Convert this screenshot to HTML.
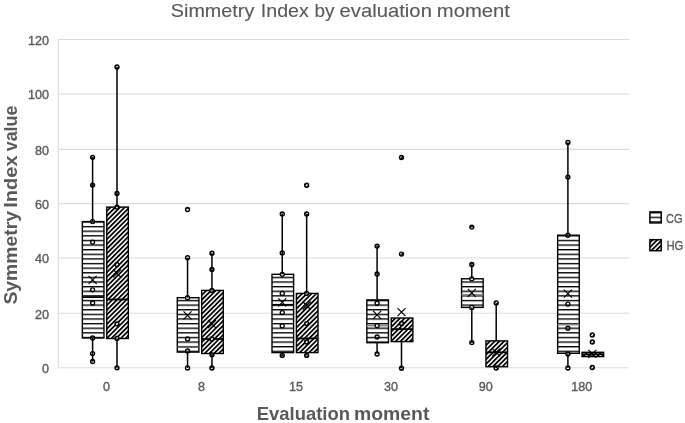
<!DOCTYPE html><html><head><meta charset="utf-8"><style>html,body{margin:0;padding:0;background:#fff;}svg{display:block;will-change:transform;}text{font-family:"Liberation Sans",sans-serif;}</style></head><body>
<svg width="685" height="423" viewBox="0 0 685 423">
<defs>
<pattern id="ph" patternUnits="userSpaceOnUse" x="0" y="-0.455" width="10" height="4.62"><rect width="10" height="4.62" fill="#fff"/><rect y="0" width="10" height="1.35" fill="#000"/></pattern>
<pattern id="pd" patternUnits="userSpaceOnUse" x="0" y="0" width="3.33" height="3.33" patternTransform="rotate(45)"><rect width="3.33" height="3.33" fill="#fff"/><rect x="0.847" width="1.75" height="3.33" fill="#000"/></pattern>
</defs>
<rect width="685" height="423" fill="#fff"/>
<line x1="58" x2="629" y1="367.80" y2="367.80" stroke="#dbdbdb" stroke-width="1.1"/>
<line x1="58" x2="629" y1="313.30" y2="313.30" stroke="#dbdbdb" stroke-width="1.1"/>
<line x1="58" x2="629" y1="257.95" y2="257.95" stroke="#dbdbdb" stroke-width="1.1"/>
<line x1="58" x2="629" y1="203.60" y2="203.60" stroke="#dbdbdb" stroke-width="1.1"/>
<line x1="58" x2="629" y1="149.35" y2="149.35" stroke="#dbdbdb" stroke-width="1.1"/>
<line x1="58" x2="629" y1="94.05" y2="94.05" stroke="#dbdbdb" stroke-width="1.1"/>
<line x1="58" x2="629" y1="39.56" y2="39.56" stroke="#dbdbdb" stroke-width="1.1"/>
<line x1="58.25" x2="58.25" y1="39.06" y2="368.30" stroke="#dbdbdb" stroke-width="1.1"/>
<text x="49" y="373.00" font-size="12.6" fill="#595959" stroke="#595959" stroke-width="0.35" text-anchor="end">0</text>
<text x="49" y="318.50" font-size="12.6" fill="#595959" stroke="#595959" stroke-width="0.35" text-anchor="end">20</text>
<text x="49" y="263.15" font-size="12.6" fill="#595959" stroke="#595959" stroke-width="0.35" text-anchor="end">40</text>
<text x="49" y="208.80" font-size="12.6" fill="#595959" stroke="#595959" stroke-width="0.35" text-anchor="end">60</text>
<text x="49" y="154.55" font-size="12.6" fill="#595959" stroke="#595959" stroke-width="0.35" text-anchor="end">80</text>
<text x="49" y="99.25" font-size="12.6" fill="#595959" stroke="#595959" stroke-width="0.35" text-anchor="end">100</text>
<text x="49" y="44.76" font-size="12.6" fill="#595959" stroke="#595959" stroke-width="0.35" text-anchor="end">120</text>
<text x="106.45" y="391.2" font-size="12.6" fill="#595959" stroke="#595959" stroke-width="0.35" text-anchor="middle">0</text>
<text x="201.40" y="391.2" font-size="12.6" fill="#595959" stroke="#595959" stroke-width="0.35" text-anchor="middle">8</text>
<text x="296.10" y="391.2" font-size="12.6" fill="#595959" stroke="#595959" stroke-width="0.35" text-anchor="middle">15</text>
<text x="390.95" y="391.2" font-size="12.6" fill="#595959" stroke="#595959" stroke-width="0.35" text-anchor="middle">30</text>
<text x="485.65" y="391.2" font-size="12.6" fill="#595959" stroke="#595959" stroke-width="0.35" text-anchor="middle">90</text>
<text x="581.75" y="391.2" font-size="12.6" fill="#595959" stroke="#595959" stroke-width="0.35" text-anchor="middle">180</text>
<text x="170.80" y="16.6" font-size="19" fill="#595959" stroke="#595959" stroke-width="0.12" textLength="83.50" lengthAdjust="spacingAndGlyphs">Simmetry</text>
<text x="260.80" y="16.6" font-size="19" fill="#595959" stroke="#595959" stroke-width="0.12" textLength="48.00" lengthAdjust="spacingAndGlyphs">Index</text>
<text x="314.40" y="16.6" font-size="19" fill="#595959" stroke="#595959" stroke-width="0.12" textLength="20.00" lengthAdjust="spacingAndGlyphs">by</text>
<text x="339.60" y="16.6" font-size="19" fill="#595959" stroke="#595959" stroke-width="0.12" textLength="92.30" lengthAdjust="spacingAndGlyphs">evaluation</text>
<text x="436.80" y="16.6" font-size="19" fill="#595959" stroke="#595959" stroke-width="0.12" textLength="73.20" lengthAdjust="spacingAndGlyphs">moment</text>
<text x="256.80" y="419.9" font-size="19" font-weight="bold" fill="#595959" textLength="93.20" lengthAdjust="spacingAndGlyphs">Evaluation</text>
<text x="353.90" y="419.9" font-size="19" font-weight="bold" fill="#595959" textLength="75.50" lengthAdjust="spacingAndGlyphs">moment</text>
<text transform="translate(17.0,0) rotate(-90)" x="-304.60" y="0" font-size="19" font-weight="bold" fill="#595959" textLength="93.60" lengthAdjust="spacingAndGlyphs">Symmetry</text>
<text transform="translate(17.0,0) rotate(-90)" x="-207.80" y="0" font-size="19" font-weight="bold" fill="#595959" textLength="52.50" lengthAdjust="spacingAndGlyphs">Index</text>
<text transform="translate(17.0,0) rotate(-90)" x="-151.20" y="0" font-size="19" font-weight="bold" fill="#595959" textLength="45.50" lengthAdjust="spacingAndGlyphs">value</text>
<rect x="82.35" y="221.6" width="21.6" height="116.40" fill="url(#ph)" stroke="#000" stroke-width="1.4"/>
<line x1="82.35" x2="103.95" y1="297.1" y2="297.1" stroke="#000" stroke-width="1.8"/>
<circle cx="92.60" cy="157.30" r="2.0" fill="url(#ph)" stroke="#000" stroke-width="1.35"/>
<circle cx="92.60" cy="185.10" r="2.0" fill="url(#ph)" stroke="#000" stroke-width="1.35"/>
<circle cx="92.60" cy="221.60" r="2.0" fill="url(#ph)" stroke="#000" stroke-width="1.35"/>
<circle cx="92.60" cy="242.10" r="2.0" fill="url(#ph)" stroke="#000" stroke-width="1.35"/>
<circle cx="92.60" cy="289.80" r="2.0" fill="url(#ph)" stroke="#000" stroke-width="1.35"/>
<circle cx="92.60" cy="303.00" r="2.0" fill="url(#ph)" stroke="#000" stroke-width="1.35"/>
<circle cx="92.60" cy="338.00" r="2.0" fill="url(#ph)" stroke="#000" stroke-width="1.35"/>
<circle cx="92.60" cy="353.60" r="2.0" fill="url(#ph)" stroke="#000" stroke-width="1.35"/>
<circle cx="92.60" cy="361.50" r="2.0" fill="url(#ph)" stroke="#000" stroke-width="1.35"/>
<line x1="92.60000000000001" x2="92.60000000000001" y1="157.3" y2="221.6" stroke="#000" stroke-width="1.5"/>
<line x1="92.60000000000001" x2="92.60000000000001" y1="338" y2="361.5" stroke="#000" stroke-width="1.5"/>
<path d="M88.60 275.80L96.60 283.80M88.60 283.80L96.60 275.80" stroke="#000" stroke-width="1.2" fill="none"/>
<rect x="106.75" y="207.1" width="21.6" height="131.40" fill="url(#pd)" stroke="#000" stroke-width="1.4"/>
<line x1="106.75" x2="128.35" y1="299.5" y2="299.5" stroke="#000" stroke-width="1.8"/>
<pattern id="pdm1" patternUnits="userSpaceOnUse" width="3.33" height="3.33" patternTransform="rotate(45)"><rect width="3.33" height="3.33" fill="#fff"/><rect x="1.028" width="1.75" height="3.33" fill="#000"/><rect x="-2.302" width="1.75" height="3.33" fill="#000"/></pattern>
<circle cx="117.00" cy="67.00" r="2.0" fill="url(#pdm1)" stroke="#000" stroke-width="1.35"/>
<pattern id="pdm2" patternUnits="userSpaceOnUse" width="3.33" height="3.33" patternTransform="rotate(45)"><rect width="3.33" height="3.33" fill="#fff"/><rect x="0.567" width="1.75" height="3.33" fill="#000"/><rect x="-2.763" width="1.75" height="3.33" fill="#000"/></pattern>
<circle cx="117.00" cy="193.50" r="2.0" fill="url(#pdm2)" stroke="#000" stroke-width="1.35"/>
<pattern id="pdm3" patternUnits="userSpaceOnUse" width="3.33" height="3.33" patternTransform="rotate(45)"><rect width="3.33" height="3.33" fill="#fff"/><rect x="0.193" width="1.75" height="3.33" fill="#000"/><rect x="-3.137" width="1.75" height="3.33" fill="#000"/></pattern>
<circle cx="117.00" cy="207.10" r="2.0" fill="url(#pdm3)" stroke="#000" stroke-width="1.35"/>
<pattern id="pdm4" patternUnits="userSpaceOnUse" width="3.33" height="3.33" patternTransform="rotate(45)"><rect width="3.33" height="3.33" fill="#fff"/><rect x="0.892" width="1.75" height="3.33" fill="#000"/><rect x="-2.438" width="1.75" height="3.33" fill="#000"/></pattern>
<circle cx="117.00" cy="264.60" r="2.0" fill="url(#pdm4)" stroke="#000" stroke-width="1.35"/>
<pattern id="pdm5" patternUnits="userSpaceOnUse" width="3.33" height="3.33" patternTransform="rotate(45)"><rect width="3.33" height="3.33" fill="#fff"/><rect x="2.863" width="1.75" height="3.33" fill="#000"/><rect x="-0.467" width="1.75" height="3.33" fill="#000"/></pattern>
<circle cx="117.00" cy="323.90" r="2.0" fill="url(#pdm5)" stroke="#000" stroke-width="1.35"/>
<pattern id="pdm6" patternUnits="userSpaceOnUse" width="3.33" height="3.33" patternTransform="rotate(45)"><rect width="3.33" height="3.33" fill="#fff"/><rect x="3.197" width="1.75" height="3.33" fill="#000"/><rect x="-0.133" width="1.75" height="3.33" fill="#000"/></pattern>
<circle cx="117.00" cy="338.50" r="2.0" fill="url(#pdm6)" stroke="#000" stroke-width="1.35"/>
<pattern id="pdm7" patternUnits="userSpaceOnUse" width="3.33" height="3.33" patternTransform="rotate(45)"><rect width="3.33" height="3.33" fill="#fff"/><rect x="0.605" width="1.75" height="3.33" fill="#000"/><rect x="-2.725" width="1.75" height="3.33" fill="#000"/></pattern>
<circle cx="117.00" cy="367.80" r="2.0" fill="url(#pdm7)" stroke="#000" stroke-width="1.35"/>
<line x1="117.00000000000001" x2="117.00000000000001" y1="67" y2="207.1" stroke="#000" stroke-width="1.5"/>
<line x1="117.00000000000001" x2="117.00000000000001" y1="338.5" y2="367.8" stroke="#000" stroke-width="1.5"/>
<path d="M113.00 269.40L121.00 277.40M113.00 277.40L121.00 269.40" stroke="#000" stroke-width="1.2" fill="none"/>
<rect x="177.30" y="297.7" width="21.6" height="54.40" fill="url(#ph)" stroke="#000" stroke-width="1.4"/>
<line x1="177.30" x2="198.90" y1="346.8" y2="346.8" stroke="#555" stroke-width="1.8"/>
<circle cx="187.55" cy="257.70" r="2.0" fill="url(#ph)" stroke="#000" stroke-width="1.35"/>
<circle cx="187.55" cy="297.70" r="2.0" fill="url(#ph)" stroke="#000" stroke-width="1.35"/>
<circle cx="187.55" cy="338.90" r="2.0" fill="url(#ph)" stroke="#000" stroke-width="1.35"/>
<circle cx="187.55" cy="351.00" r="2.0" fill="url(#ph)" stroke="#000" stroke-width="1.35"/>
<circle cx="187.55" cy="368.00" r="2.0" fill="url(#ph)" stroke="#000" stroke-width="1.35"/>
<circle cx="187.55" cy="209.50" r="2.0" fill="url(#ph)" stroke="#000" stroke-width="1.35"/>
<line x1="187.54999999999998" x2="187.54999999999998" y1="257.7" y2="297.7" stroke="#000" stroke-width="1.5"/>
<line x1="187.54999999999998" x2="187.54999999999998" y1="352.1" y2="368" stroke="#000" stroke-width="1.5"/>
<path d="M183.55 311.40L191.55 319.40M183.55 319.40L191.55 311.40" stroke="#000" stroke-width="1.2" fill="none"/>
<rect x="201.70" y="290.4" width="21.6" height="63.10" fill="url(#pd)" stroke="#000" stroke-width="1.4"/>
<line x1="201.70" x2="223.30" y1="339" y2="339" stroke="#000" stroke-width="1.8"/>
<pattern id="pdm8" patternUnits="userSpaceOnUse" width="3.33" height="3.33" patternTransform="rotate(45)"><rect width="3.33" height="3.33" fill="#fff"/><rect x="0.031" width="1.75" height="3.33" fill="#000"/><rect x="-3.299" width="1.75" height="3.33" fill="#000"/></pattern>
<circle cx="211.95" cy="253.20" r="2.0" fill="url(#pdm8)" stroke="#000" stroke-width="1.35"/>
<pattern id="pdm9" patternUnits="userSpaceOnUse" width="3.33" height="3.33" patternTransform="rotate(45)"><rect width="3.33" height="3.33" fill="#fff"/><rect x="1.567" width="1.75" height="3.33" fill="#000"/><rect x="-1.763" width="1.75" height="3.33" fill="#000"/></pattern>
<circle cx="211.95" cy="269.50" r="2.0" fill="url(#pdm9)" stroke="#000" stroke-width="1.35"/>
<pattern id="pdm10" patternUnits="userSpaceOnUse" width="3.33" height="3.33" patternTransform="rotate(45)"><rect width="3.33" height="3.33" fill="#fff"/><rect x="3.025" width="1.75" height="3.33" fill="#000"/><rect x="-0.305" width="1.75" height="3.33" fill="#000"/></pattern>
<circle cx="211.95" cy="290.40" r="2.0" fill="url(#pdm10)" stroke="#000" stroke-width="1.35"/>
<pattern id="pdm11" patternUnits="userSpaceOnUse" width="3.33" height="3.33" patternTransform="rotate(45)"><rect width="3.33" height="3.33" fill="#fff"/><rect x="0.760" width="1.75" height="3.33" fill="#000"/><rect x="-2.570" width="1.75" height="3.33" fill="#000"/></pattern>
<circle cx="211.95" cy="339.00" r="2.0" fill="url(#pdm11)" stroke="#000" stroke-width="1.35"/>
<pattern id="pdm12" patternUnits="userSpaceOnUse" width="3.33" height="3.33" patternTransform="rotate(45)"><rect width="3.33" height="3.33" fill="#fff"/><rect x="1.943" width="1.75" height="3.33" fill="#000"/><rect x="-1.387" width="1.75" height="3.33" fill="#000"/></pattern>
<circle cx="211.95" cy="354.80" r="2.0" fill="url(#pdm12)" stroke="#000" stroke-width="1.35"/>
<pattern id="pdm13" patternUnits="userSpaceOnUse" width="3.33" height="3.33" patternTransform="rotate(45)"><rect width="3.33" height="3.33" fill="#fff"/><rect x="1.287" width="1.75" height="3.33" fill="#000"/><rect x="-2.043" width="1.75" height="3.33" fill="#000"/></pattern>
<circle cx="211.95" cy="368.00" r="2.0" fill="url(#pdm13)" stroke="#000" stroke-width="1.35"/>
<line x1="211.95" x2="211.95" y1="253.2" y2="290.4" stroke="#000" stroke-width="1.5"/>
<line x1="211.95" x2="211.95" y1="353.5" y2="368" stroke="#000" stroke-width="1.5"/>
<path d="M207.95 320.00L215.95 328.00M207.95 328.00L215.95 320.00" stroke="#000" stroke-width="1.2" fill="none"/>
<rect x="272.00" y="274.3" width="21.6" height="78.30" fill="url(#ph)" stroke="#000" stroke-width="1.4"/>
<line x1="272.00" x2="293.60" y1="304.8" y2="304.8" stroke="#000" stroke-width="1.8"/>
<circle cx="282.25" cy="214.00" r="2.0" fill="url(#ph)" stroke="#000" stroke-width="1.35"/>
<circle cx="282.25" cy="253.00" r="2.0" fill="url(#ph)" stroke="#000" stroke-width="1.35"/>
<circle cx="282.25" cy="274.30" r="2.0" fill="url(#ph)" stroke="#000" stroke-width="1.35"/>
<circle cx="282.25" cy="293.40" r="2.0" fill="url(#ph)" stroke="#000" stroke-width="1.35"/>
<circle cx="282.25" cy="312.60" r="2.0" fill="url(#ph)" stroke="#000" stroke-width="1.35"/>
<circle cx="282.25" cy="325.80" r="2.0" fill="url(#ph)" stroke="#000" stroke-width="1.35"/>
<circle cx="282.25" cy="355.40" r="2.0" fill="url(#ph)" stroke="#000" stroke-width="1.35"/>
<line x1="282.25" x2="282.25" y1="214" y2="274.3" stroke="#000" stroke-width="1.5"/>
<line x1="282.25" x2="282.25" y1="352.6" y2="355.4" stroke="#000" stroke-width="1.5"/>
<path d="M278.25 298.30L286.25 306.30M278.25 306.30L286.25 298.30" stroke="#000" stroke-width="1.2" fill="none"/>
<rect x="296.40" y="293.4" width="21.6" height="59.20" fill="url(#pd)" stroke="#000" stroke-width="1.4"/>
<line x1="296.40" x2="318.00" y1="338.4" y2="338.4" stroke="#000" stroke-width="1.8"/>
<pattern id="pdm14" patternUnits="userSpaceOnUse" width="3.33" height="3.33" patternTransform="rotate(45)"><rect width="3.33" height="3.33" fill="#fff"/><rect x="2.645" width="1.75" height="3.33" fill="#000"/><rect x="-0.685" width="1.75" height="3.33" fill="#000"/></pattern>
<circle cx="306.65" cy="214.00" r="2.0" fill="url(#pdm14)" stroke="#000" stroke-width="1.35"/>
<pattern id="pdm15" patternUnits="userSpaceOnUse" width="3.33" height="3.33" patternTransform="rotate(45)"><rect width="3.33" height="3.33" fill="#fff"/><rect x="2.179" width="1.75" height="3.33" fill="#000"/><rect x="-1.151" width="1.75" height="3.33" fill="#000"/></pattern>
<circle cx="306.65" cy="293.40" r="2.0" fill="url(#pdm15)" stroke="#000" stroke-width="1.35"/>
<pattern id="pdm16" patternUnits="userSpaceOnUse" width="3.33" height="3.33" patternTransform="rotate(45)"><rect width="3.33" height="3.33" fill="#fff"/><rect x="0.224" width="1.75" height="3.33" fill="#000"/><rect x="-3.106" width="1.75" height="3.33" fill="#000"/></pattern>
<circle cx="306.65" cy="323.60" r="2.0" fill="url(#pdm16)" stroke="#000" stroke-width="1.35"/>
<pattern id="pdm17" patternUnits="userSpaceOnUse" width="3.33" height="3.33" patternTransform="rotate(45)"><rect width="3.33" height="3.33" fill="#fff"/><rect x="3.245" width="1.75" height="3.33" fill="#000"/><rect x="-0.085" width="1.75" height="3.33" fill="#000"/></pattern>
<circle cx="306.65" cy="342.00" r="2.0" fill="url(#pdm17)" stroke="#000" stroke-width="1.35"/>
<pattern id="pdm18" patternUnits="userSpaceOnUse" width="3.33" height="3.33" patternTransform="rotate(45)"><rect width="3.33" height="3.33" fill="#fff"/><rect x="2.730" width="1.75" height="3.33" fill="#000"/><rect x="-0.600" width="1.75" height="3.33" fill="#000"/></pattern>
<circle cx="306.65" cy="355.40" r="2.0" fill="url(#pdm18)" stroke="#000" stroke-width="1.35"/>
<pattern id="pdm19" patternUnits="userSpaceOnUse" width="3.33" height="3.33" patternTransform="rotate(45)"><rect width="3.33" height="3.33" fill="#fff"/><rect x="2.260" width="1.75" height="3.33" fill="#000"/><rect x="-1.070" width="1.75" height="3.33" fill="#000"/></pattern>
<circle cx="306.65" cy="185.20" r="2.0" fill="url(#pdm19)" stroke="#000" stroke-width="1.35"/>
<line x1="306.65" x2="306.65" y1="214" y2="293.4" stroke="#000" stroke-width="1.5"/>
<line x1="306.65" x2="306.65" y1="352.6" y2="355.4" stroke="#000" stroke-width="1.5"/>
<path d="M302.65 301.50L310.65 309.50M302.65 309.50L310.65 301.50" stroke="#000" stroke-width="1.2" fill="none"/>
<rect x="366.85" y="299.9" width="21.6" height="42.80" fill="url(#ph)" stroke="#000" stroke-width="1.4"/>
<line x1="366.85" x2="388.45" y1="325.6" y2="325.6" stroke="#8a8a8a" stroke-width="1.8"/>
<circle cx="377.10" cy="246.10" r="2.0" fill="url(#ph)" stroke="#000" stroke-width="1.35"/>
<circle cx="377.10" cy="274.00" r="2.0" fill="url(#ph)" stroke="#000" stroke-width="1.35"/>
<circle cx="377.10" cy="303.20" r="2.0" fill="url(#ph)" stroke="#000" stroke-width="1.35"/>
<circle cx="377.10" cy="325.60" r="2.0" fill="url(#ph)" stroke="#000" stroke-width="1.35"/>
<circle cx="377.10" cy="337.00" r="2.0" fill="url(#ph)" stroke="#000" stroke-width="1.35"/>
<circle cx="377.10" cy="354.00" r="2.0" fill="url(#ph)" stroke="#000" stroke-width="1.35"/>
<line x1="377.09999999999997" x2="377.09999999999997" y1="246.1" y2="299.9" stroke="#000" stroke-width="1.5"/>
<line x1="377.09999999999997" x2="377.09999999999997" y1="342.7" y2="354" stroke="#000" stroke-width="1.5"/>
<path d="M373.10 310.80L381.10 318.80M373.10 318.80L381.10 310.80" stroke="#000" stroke-width="1.2" fill="none"/>
<rect x="391.25" y="318.0" width="21.6" height="23.60" fill="url(#pd)" stroke="#000" stroke-width="1.4"/>
<line x1="391.25" x2="412.85" y1="329.1" y2="329.1" stroke="#000" stroke-width="1.8"/>
<pattern id="pdm20" patternUnits="userSpaceOnUse" width="3.33" height="3.33" patternTransform="rotate(45)"><rect width="3.33" height="3.33" fill="#fff"/><rect x="0.622" width="1.75" height="3.33" fill="#000"/><rect x="-2.708" width="1.75" height="3.33" fill="#000"/></pattern>
<circle cx="401.50" cy="323.50" r="2.0" fill="url(#pdm20)" stroke="#000" stroke-width="1.35"/>
<pattern id="pdm21" patternUnits="userSpaceOnUse" width="3.33" height="3.33" patternTransform="rotate(45)"><rect width="3.33" height="3.33" fill="#fff"/><rect x="2.260" width="1.75" height="3.33" fill="#000"/><rect x="-1.070" width="1.75" height="3.33" fill="#000"/></pattern>
<circle cx="401.50" cy="368.20" r="2.0" fill="url(#pdm21)" stroke="#000" stroke-width="1.35"/>
<pattern id="pdm22" patternUnits="userSpaceOnUse" width="3.33" height="3.33" patternTransform="rotate(45)"><rect width="3.33" height="3.33" fill="#fff"/><rect x="2.062" width="1.75" height="3.33" fill="#000"/><rect x="-1.268" width="1.75" height="3.33" fill="#000"/></pattern>
<circle cx="401.50" cy="157.50" r="2.0" fill="url(#pdm22)" stroke="#000" stroke-width="1.35"/>
<pattern id="pdm23" patternUnits="userSpaceOnUse" width="3.33" height="3.33" patternTransform="rotate(45)"><rect width="3.33" height="3.33" fill="#fff"/><rect x="0.439" width="1.75" height="3.33" fill="#000"/><rect x="-2.891" width="1.75" height="3.33" fill="#000"/></pattern>
<circle cx="401.50" cy="254.10" r="2.0" fill="url(#pdm23)" stroke="#000" stroke-width="1.35"/>
<line x1="401.49999999999994" x2="401.49999999999994" y1="341.6" y2="368.2" stroke="#000" stroke-width="1.5"/>
<path d="M397.50 308.10L405.50 316.10M397.50 316.10L405.50 308.10" stroke="#000" stroke-width="1.2" fill="none"/>
<rect x="461.55" y="278.8" width="21.6" height="28.60" fill="url(#ph)" stroke="#000" stroke-width="1.4"/>
<line x1="461.55" x2="483.15" y1="294.8" y2="294.8" stroke="#8a8a8a" stroke-width="1.8"/>
<circle cx="471.80" cy="264.50" r="2.0" fill="url(#ph)" stroke="#000" stroke-width="1.35"/>
<circle cx="471.80" cy="278.80" r="2.0" fill="url(#ph)" stroke="#000" stroke-width="1.35"/>
<circle cx="471.80" cy="307.40" r="2.0" fill="url(#ph)" stroke="#000" stroke-width="1.35"/>
<circle cx="471.80" cy="342.60" r="2.0" fill="url(#ph)" stroke="#000" stroke-width="1.35"/>
<circle cx="471.80" cy="227.10" r="2.0" fill="url(#ph)" stroke="#000" stroke-width="1.35"/>
<line x1="471.8" x2="471.8" y1="264.5" y2="278.8" stroke="#000" stroke-width="1.5"/>
<line x1="471.8" x2="471.8" y1="307.4" y2="342.6" stroke="#000" stroke-width="1.5"/>
<path d="M467.80 288.90L475.80 296.90M467.80 296.90L475.80 288.90" stroke="#000" stroke-width="1.2" fill="none"/>
<rect x="485.95" y="340.9" width="21.6" height="25.80" fill="url(#pd)" stroke="#000" stroke-width="1.4"/>
<line x1="485.95" x2="507.55" y1="352.3" y2="352.3" stroke="#000" stroke-width="1.8"/>
<pattern id="pdm24" patternUnits="userSpaceOnUse" width="3.33" height="3.33" patternTransform="rotate(45)"><rect width="3.33" height="3.33" fill="#fff"/><rect x="3.069" width="1.75" height="3.33" fill="#000"/><rect x="-0.261" width="1.75" height="3.33" fill="#000"/></pattern>
<circle cx="496.20" cy="302.90" r="2.0" fill="url(#pdm24)" stroke="#000" stroke-width="1.35"/>
<pattern id="pdm25" patternUnits="userSpaceOnUse" width="3.33" height="3.33" patternTransform="rotate(45)"><rect width="3.33" height="3.33" fill="#fff"/><rect x="2.482" width="1.75" height="3.33" fill="#000"/><rect x="-0.848" width="1.75" height="3.33" fill="#000"/></pattern>
<circle cx="496.20" cy="368.00" r="2.0" fill="url(#pdm25)" stroke="#000" stroke-width="1.35"/>
<line x1="496.2" x2="496.2" y1="302.9" y2="340.9" stroke="#000" stroke-width="1.5"/>
<line x1="496.2" x2="496.2" y1="366.7" y2="368" stroke="#000" stroke-width="1.5"/>
<path d="M492.20 348.30L500.20 356.30M492.20 356.30L500.20 348.30" stroke="#000" stroke-width="1.2" fill="none"/>
<rect x="557.65" y="235.2" width="21.6" height="118.10" fill="url(#ph)" stroke="#000" stroke-width="1.4"/>
<line x1="557.65" x2="579.25" y1="324.6" y2="324.6" stroke="#8a8a8a" stroke-width="1.8"/>
<circle cx="567.90" cy="142.50" r="2.0" fill="url(#ph)" stroke="#000" stroke-width="1.35"/>
<circle cx="567.90" cy="177.10" r="2.0" fill="url(#ph)" stroke="#000" stroke-width="1.35"/>
<circle cx="567.90" cy="235.20" r="2.0" fill="url(#ph)" stroke="#000" stroke-width="1.35"/>
<circle cx="567.90" cy="304.10" r="2.0" fill="url(#ph)" stroke="#000" stroke-width="1.35"/>
<circle cx="567.90" cy="328.20" r="2.0" fill="url(#ph)" stroke="#000" stroke-width="1.35"/>
<circle cx="567.90" cy="354.00" r="2.0" fill="url(#ph)" stroke="#000" stroke-width="1.35"/>
<circle cx="567.90" cy="368.00" r="2.0" fill="url(#ph)" stroke="#000" stroke-width="1.35"/>
<line x1="567.9000000000001" x2="567.9000000000001" y1="142.5" y2="235.2" stroke="#000" stroke-width="1.5"/>
<line x1="567.9000000000001" x2="567.9000000000001" y1="353.3" y2="368" stroke="#000" stroke-width="1.5"/>
<path d="M563.90 289.70L571.90 297.70M563.90 297.70L571.90 289.70" stroke="#000" stroke-width="1.2" fill="none"/>
<rect x="582.05" y="352.3" width="21.6" height="4.30" fill="url(#pd)" stroke="#000" stroke-width="1.4"/>
<line x1="582.05" x2="603.65" y1="354.3" y2="354.3" stroke="#000" stroke-width="1.8"/>
<pattern id="pdm26" patternUnits="userSpaceOnUse" width="3.33" height="3.33" patternTransform="rotate(45)"><rect width="3.33" height="3.33" fill="#fff"/><rect x="0.409" width="1.75" height="3.33" fill="#000"/><rect x="-2.921" width="1.75" height="3.33" fill="#000"/></pattern>
<circle cx="592.30" cy="334.90" r="2.0" fill="url(#pdm26)" stroke="#000" stroke-width="1.35"/>
<pattern id="pdm27" patternUnits="userSpaceOnUse" width="3.33" height="3.33" patternTransform="rotate(45)"><rect width="3.33" height="3.33" fill="#fff"/><rect x="2.100" width="1.75" height="3.33" fill="#000"/><rect x="-1.230" width="1.75" height="3.33" fill="#000"/></pattern>
<circle cx="592.30" cy="342.00" r="2.0" fill="url(#pdm27)" stroke="#000" stroke-width="1.35"/>
<pattern id="pdm28" patternUnits="userSpaceOnUse" width="3.33" height="3.33" patternTransform="rotate(45)"><rect width="3.33" height="3.33" fill="#fff"/><rect x="0.151" width="1.75" height="3.33" fill="#000"/><rect x="-3.179" width="1.75" height="3.33" fill="#000"/></pattern>
<circle cx="592.30" cy="367.50" r="2.0" fill="url(#pdm28)" stroke="#000" stroke-width="1.35"/>
<path d="M588.30 349.80L596.30 357.80M588.30 357.80L596.30 349.80" stroke="#000" stroke-width="1.2" fill="none"/>
<rect x="649.9" y="211.9" width="11.3" height="11" fill="url(#ph)" stroke="#000" stroke-width="1.5"/>
<text x="666.0" y="222.6" font-size="13.2" fill="#595959" stroke="#595959" stroke-width="0.35" textLength="16.6" lengthAdjust="spacingAndGlyphs">CG</text>
<rect x="649.9" y="239.7" width="11.3" height="11" fill="url(#pd)" stroke="#000" stroke-width="1.5"/>
<text x="666.4" y="249.8" font-size="13.2" fill="#595959" stroke="#595959" stroke-width="0.35" textLength="17.0" lengthAdjust="spacingAndGlyphs">HG</text>
</svg></body></html>
